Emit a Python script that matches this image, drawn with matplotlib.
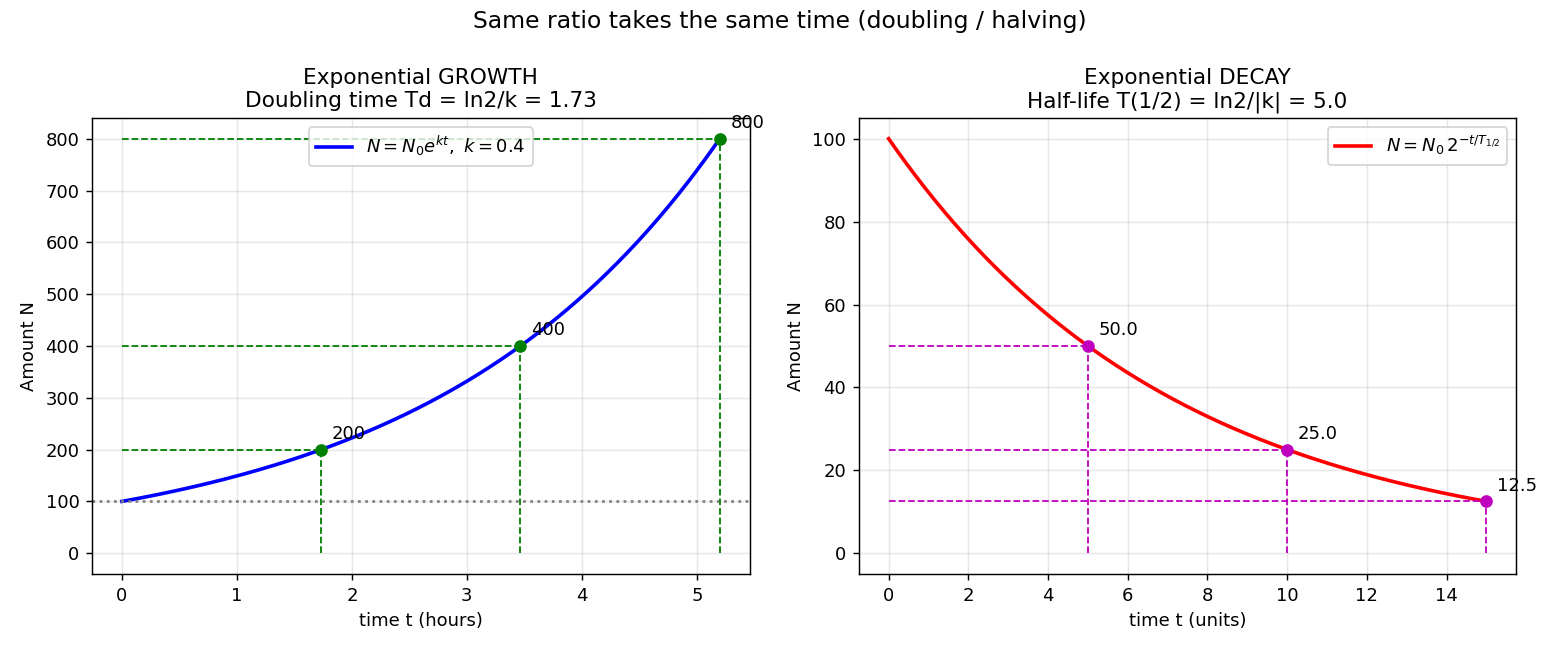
import numpy as np
import matplotlib
matplotlib.use("Agg")
import matplotlib.pyplot as plt

# Growth parameters
N0_growth = 100
k_growth = 0.4
growth_times = [1.733, 3.466, 5.199]
growth_values = [200, 400, 800]
growth_labels = ["200", "400", "800"]

# Decay parameters
N0_decay = 100
half_life = 5.0
decay_times = [5, 10, 15]
decay_values = [50.0, 25.0, 12.5]
decay_labels = ["50.0", "25.0", "12.5"]

fig, (ax1, ax2) = plt.subplots(1, 2, figsize=(12, 5), dpi=130)
fig.suptitle("Same ratio takes the same time (doubling / halving)", fontsize=13, y=0.985)

# Growth
t1 = np.linspace(0, growth_times[-1], 300)
ax1.plot(t1, N0_growth * np.exp(k_growth * t1), color="blue", lw=2,
         label=r"$N=N_0e^{kt},\ k=0.4$")
ax1.axhline(N0_growth, color="gray", ls=":", lw=1.5)
for t, v, lab in zip(growth_times, growth_values, growth_labels):
    ax1.vlines(t, 0, v, colors="g", linestyles="--", lw=1)
    ax1.hlines(v, 0, t, colors="g", linestyles="--", lw=1)
    ax1.plot(t, v, "go", ms=6)
    ax1.annotate(lab, (t, v), textcoords="offset points", xytext=(6, 6))
ax1.set_title("Exponential GROWTH\nDoubling time Td = ln2/k = 1.73")
ax1.set_xlabel("time t (hours)")
ax1.set_ylabel("Amount N")
ax1.grid(alpha=0.3)
ax1.legend(loc="upper center")

# Decay
t2 = np.linspace(0, decay_times[-1], 300)
ax2.plot(t2, N0_decay * 2 ** (-t2 / half_life), color="red", lw=2,
         label=r"$N=N_0\,2^{-t/T_{1/2}}$")
for t, v, lab in zip(decay_times, decay_values, decay_labels):
    ax2.vlines(t, 0, v, colors="m", linestyles="--", lw=1)
    ax2.hlines(v, 0, t, colors="m", linestyles="--", lw=1)
    ax2.plot(t, v, "mo", ms=6)
    ax2.annotate(lab, (t, v), textcoords="offset points", xytext=(6, 6))
ax2.set_title("Exponential DECAY\nHalf-life T(1/2) = ln2/|k| = 5.0")
ax2.set_xlabel("time t (units)")
ax2.set_ylabel("Amount N")
ax2.grid(alpha=0.3)
ax2.legend(loc="upper right")

fig.subplots_adjust(left=0.059, right=0.972, top=0.8185, bottom=0.117, wspace=0.166)
fig.savefig("out.png", dpi=130)
